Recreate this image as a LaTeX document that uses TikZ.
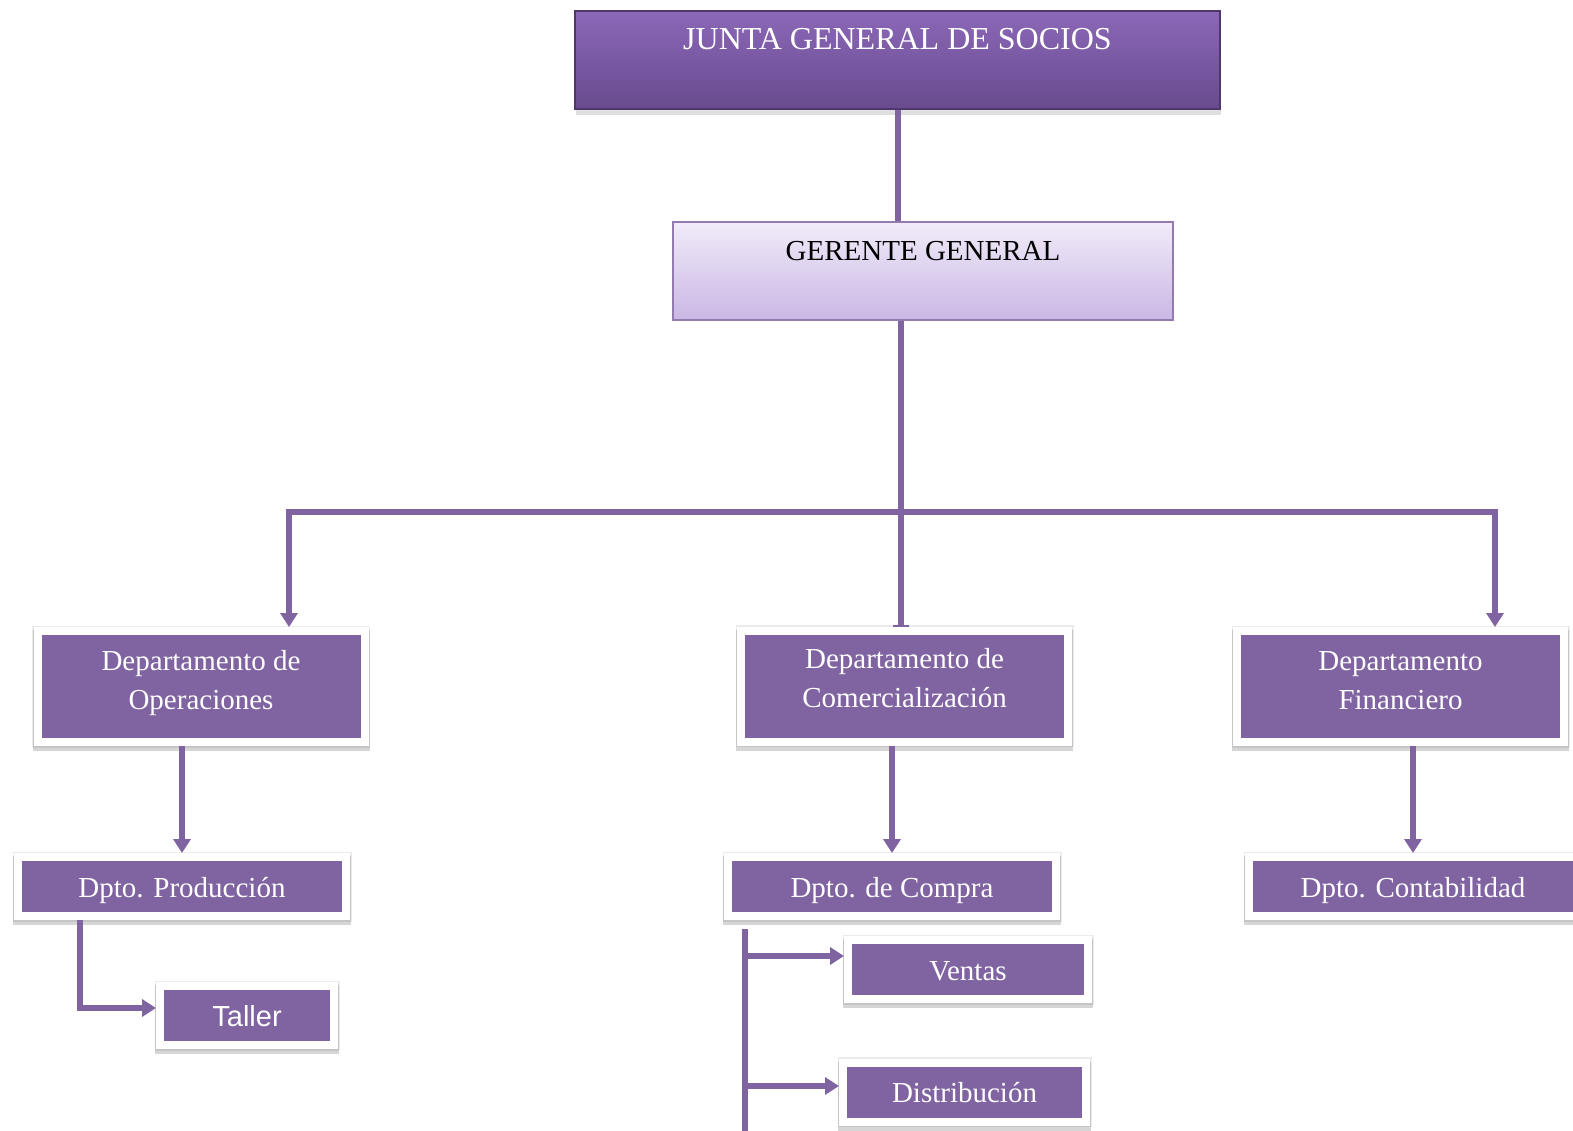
\documentclass[tikz,border=0pt]{standalone}
\usepackage{fontspec}
\setmainfont{Liberation Serif}
\newfontfamily\tallerfont{Liberation Sans}
\usetikzlibrary{arrows.meta,positioning,shadows,calc}
\definecolor{violeta}{HTML}{8064A2}
\definecolor{juntatop}{HTML}{8C68B8}
\definecolor{juntabot}{HTML}{684A8E}
\definecolor{gertop}{HTML}{F1EBF9}
\definecolor{gerbot}{HTML}{CAB7E4}

\begin{document}
\begin{tikzpicture}[
    x=1pt, y=-1pt,
    head/.style={rectangle, inner sep=0pt, text height=39pt, text depth=59pt, anchor=north, font=\fontsize{29}{35}\selectfont},
    box/.style={rectangle, fill=violeta, draw=white, line width=8pt, outer sep=4pt, text=white, minimum width=328pt,
        preaction={draw=black, draw opacity=0.08, line width=11pt},
        preaction={draw=black, draw opacity=0.16, line width=10pt, transform canvas={yshift=-4pt}}},
    dept/.style={box, align=center, minimum width=327pt, minimum height=111pt, text height=59pt, text depth=14pt, font=\fontsize{29}{39}\selectfont},
    sub/.style={box, minimum height=59pt, text height=23pt, text depth=2pt, font=\fontsize{29}{35}\selectfont},
    arr/.style={-{Triangle[width=17pt,length=14pt]}, line width=6pt, draw=violeta},
    link/.style={line width=6pt, draw=violeta}
]
\useasboundingbox (0,0) rectangle (1573,1130);

\node[head, minimum width=645pt, top color=juntatop, bottom color=juntabot, draw=juntabot!75!black, line width=1.5pt, text=white, font=\fontsize{32}{38}\selectfont, drop shadow={shadow xshift=1pt, shadow yshift=-6pt, opacity=0.25}] (junta) at (897.5,10) {JUNTA GENERAL DE SOCIOS};
\node[head, minimum width=500pt, top color=gertop, bottom color=gerbot, draw=violeta!85, line width=2pt, text=black, text height=38pt, text depth=60pt] (gerente) at (923,221) {GERENTE GENERAL};

\node[dept] (oper) at (201,686.5) {Departamento de\\Operaciones};
\node[dept, text height=56pt] (comer) at (904.5,686) {Departamento de\\Comercialización};
\node[dept] (finan) at (1400.5,686.5) {Departamento\\Financiero};
\node[sub] (prod) at (182,886.5) {Dpto. Producción};
\node[sub] (compra) at (892,886.5) {Dpto. de Compra};
\node[sub] (conta) at (1413,886.5) {Dpto. Contabilidad};
\node[sub, minimum width=174pt, font=\tallerfont\fontsize{29}{35}\selectfont] (taller) at (247,1015.5) {Taller};
\node[sub, minimum width=240pt] (ventas) at (968,969.5) {Ventas};
\node[sub, minimum width=243pt] (distrib) at (964.5,1092) {Distribución};

\coordinate (bus) at (901,512);
\coordinate (trunk) at ([xshift=-147pt, yshift=-9pt]compra.south);
\coordinate (tin) at ([yshift=7.5pt]taller.west);
\coordinate (vin) at ([yshift=13.5pt]ventas.west);
\coordinate (din) at ([yshift=6pt]distrib.west);

\draw[link] (junta.south) -- (junta.south |- gerente.north);
\draw[link, -{Bar[width=16pt,line width=2pt]}] (gerente.south -| bus) -- (bus |- comer.north);
\draw[arr] (bus) -| ([xshift=88pt]oper.north);
\draw[arr] (bus) -| ([xshift=94.5pt]finan.north);
\draw[arr] (prod.north |- oper.south) -- (prod.north);
\draw[arr] (compra.north |- comer.south) -- (compra.north);
\draw[arr] (conta.north |- finan.south) -- (conta.north);
\draw[arr] ([xshift=-102pt]prod.south) |- (tin);
\draw[link] (trunk) -- (trunk |- 0,1140);
\draw[arr] (vin -| trunk) -- (vin);
\draw[arr] (din -| trunk) -- (din);
\end{tikzpicture}
\end{document}
